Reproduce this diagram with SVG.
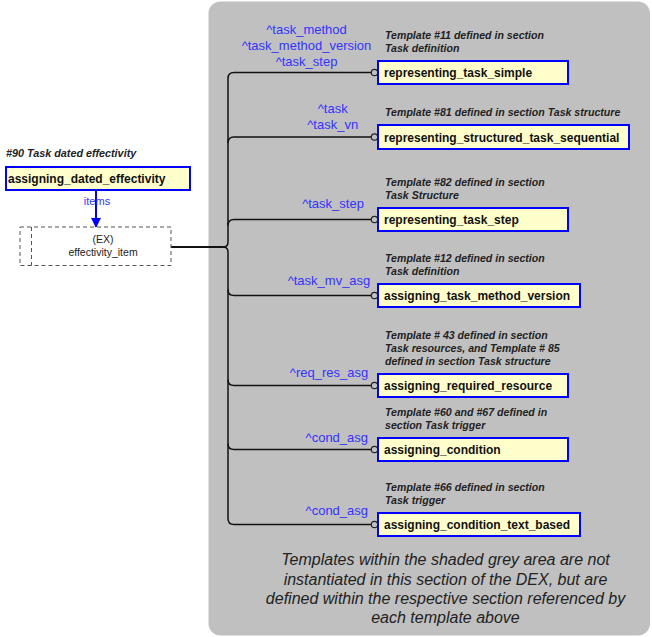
<svg xmlns="http://www.w3.org/2000/svg" width="652" height="637" viewBox="0 0 652 637">
<style>
.node{fill:#ffffcc;stroke:#0000ff;stroke-width:2}
.nt{font-family:"Liberation Sans",Arial,sans-serif;font-size:12px;font-weight:bold;fill:#111}
.tpl{font-family:"Liberation Sans",Arial,sans-serif;font-size:10.6px;font-weight:bold;font-style:italic;fill:#222}
.lbl{font-family:"Liberation Sans",Arial,sans-serif;font-size:13px;fill:#3333ff;text-anchor:middle}
.conn{fill:none;stroke:#111;stroke-width:1.5}
.end{fill:#c0c0c0;stroke:#222;stroke-width:1.2}
.note{font-family:"Liberation Sans",Arial,sans-serif;font-size:16px;font-style:italic;fill:#222;text-anchor:middle}
</style>
<defs>
<marker id="arr" markerWidth="10" markerHeight="10" refX="9" refY="5" orient="auto" markerUnits="userSpaceOnUse">
<path d="M0,0 L10,5 L0,10 Z" fill="#0000ff"/>
</marker>
</defs>
<rect x="208.5" y="1.5" width="441.5" height="634" rx="12" ry="12" fill="#c0c0c0"/>

<g id="connectors">
<path class="conn" d="M171,247 H223" style="stroke-width:2"/>
<path class="conn" d="M223,247 Q228,247 228,242 V78.5 Q228,72.5 234,72.5 H371.3"/>
<path class="conn" d="M228,143 Q228,137 234,137 H371.3"/>
<path class="conn" d="M228,225.5 Q228,219.5 234,219.5 H371.3"/>
<path class="conn" d="M223,247 Q228,247 228,252 V518.5 Q228,524.5 234,524.5 H371.3"/>
<path class="conn" d="M228,289.5 Q228,295.5 234,295.5 H371.3"/>
<path class="conn" d="M228,379.5 Q228,385.5 234,385.5 H371.3"/>
<path class="conn" d="M228,443.5 Q228,449.5 234,449.5 H371.3"/>
<circle class="end" cx="374.5" cy="72.5" r="3.2"/>
<circle class="end" cx="374.5" cy="137" r="3.2"/>
<circle class="end" cx="374.5" cy="219.5" r="3.2"/>
<circle class="end" cx="374.5" cy="295.5" r="3.2"/>
<circle class="end" cx="374.5" cy="385.5" r="3.2"/>
<circle class="end" cx="374.5" cy="449.5" r="3.2"/>
<circle class="end" cx="374.5" cy="524.5" r="3.2"/>
<line x1="96" y1="191" x2="96" y2="227" stroke="#0000ff" stroke-width="2" marker-end="url(#arr)"/>
<text x="97" y="205" font-family="Liberation Sans, Arial, sans-serif" font-size="11" fill="#3333ff" text-anchor="middle">items</text>
<text class="lbl" x="306.5" y="34">^task_method</text>
<text class="lbl" x="306.5" y="50">^task_method_version</text>
<text class="lbl" x="306.5" y="66">^task_step</text>
<text class="lbl" x="332.7" y="113">^task</text>
<text class="lbl" x="332.7" y="129">^task_vn</text>
<text class="lbl" x="333" y="208">^task_step</text>
<text class="lbl" x="329" y="285">^task_mv_asg</text>
<text class="lbl" x="329" y="377">^req_res_asg</text>
<text class="lbl" x="336.8" y="442">^cond_asg</text>
<text class="lbl" x="336.8" y="515">^cond_asg</text>
</g>

<g id="assigning_dated_effectivity">
<text class="tpl" x="6" y="157" style="font-size:10.8px">#90 Task dated effectivity</text>
<rect class="node" x="6" y="167" width="184" height="23"/>
<text class="nt" x="8" y="183">assigning_dated_effectivity</text>
</g>

<g id="effectivity_item">
<rect x="20" y="227" width="151" height="38.5" fill="#fff" stroke="#555" stroke-width="1" stroke-dasharray="4,3"/>
<line x1="31.5" y1="227" x2="31.5" y2="265.5" stroke="#555" stroke-width="1" stroke-dasharray="4,3"/>
<text x="103" y="243" font-family="Liberation Sans, Arial, sans-serif" font-size="10.5" fill="#222" text-anchor="middle">(EX)</text>
<text x="103" y="256" font-family="Liberation Sans, Arial, sans-serif" font-size="10.5" fill="#222" text-anchor="middle">effectivity_item</text>
</g>

<g id="representing_task_simple">
<text class="tpl" x="385" y="39">Template #11 defined in section</text>
<text class="tpl" x="385" y="51.5">Task definition</text>
<rect class="node" x="378" y="61" width="190" height="23"/>
<text class="nt" x="384" y="77">representing_task_simple</text>
</g>

<g id="representing_structured_task_sequential">
<text class="tpl" x="385" y="116">Template #81 defined in section Task structure</text>
<rect class="node" x="378" y="125" width="251" height="24"/>
<text class="nt" x="384" y="141.5">representing_structured_task_sequential</text>
</g>

<g id="representing_task_step">
<text class="tpl" x="385" y="186">Template #82 defined in section</text>
<text class="tpl" x="385" y="198.5">Task Structure</text>
<rect class="node" x="378" y="208" width="190" height="23"/>
<text class="nt" x="384" y="224">representing_task_step</text>
</g>

<g id="assigning_task_method_version">
<text class="tpl" x="385" y="262">Template #12 defined in section</text>
<text class="tpl" x="385" y="274.5">Task definition</text>
<rect class="node" x="378" y="284" width="202" height="23"/>
<text class="nt" x="384" y="300">assigning_task_method_version</text>
</g>

<g id="assigning_required_resource">
<text class="tpl" x="385" y="339">Template # 43 defined in section</text>
<text class="tpl" x="385" y="351.5">Task resources, and Template # 85</text>
<text class="tpl" x="385" y="364.5">defined in section Task structure</text>
<rect class="node" x="378" y="374" width="190" height="23"/>
<text class="nt" x="384" y="390">assigning_required_resource</text>
</g>

<g id="assigning_condition">
<text class="tpl" x="385" y="415.5">Template #60 and #67 defined in</text>
<text class="tpl" x="385" y="428.5">section Task trigger</text>
<rect class="node" x="378" y="438" width="190" height="23"/>
<text class="nt" x="384" y="454">assigning_condition</text>
</g>

<g id="assigning_condition_text_based">
<text class="tpl" x="385" y="491">Template #66 defined in section</text>
<text class="tpl" x="385" y="504">Task trigger</text>
<rect class="node" x="378" y="513" width="202" height="23"/>
<text class="nt" x="384" y="529">assigning_condition_text_based</text>
</g>

<g id="note">
<text class="note" x="445.5" y="565">Templates within the shaded grey area are not</text>
<text class="note" x="445.5" y="584.5">instantiated in this section of the DEX, but are</text>
<text class="note" x="445.5" y="603.5">defined within the respective section referenced by</text>
<text class="note" x="445.5" y="623">each template above</text>
</g>
</svg>
